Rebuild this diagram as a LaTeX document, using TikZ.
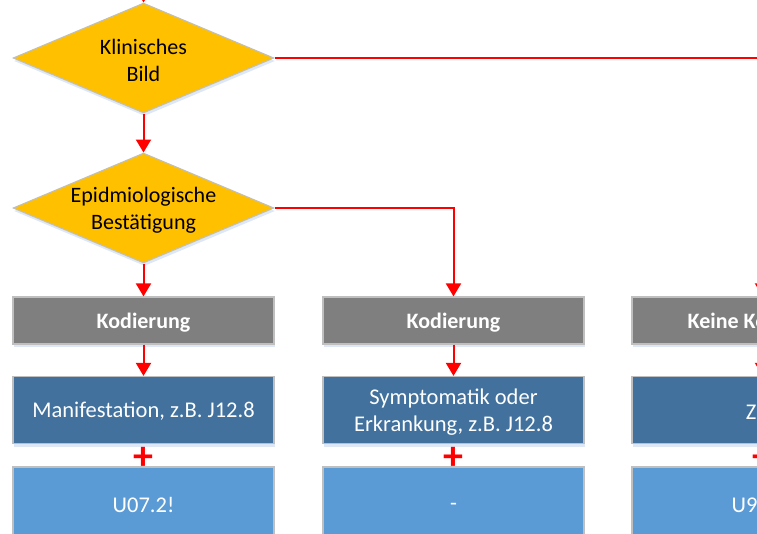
\documentclass[tikz,border=0pt]{standalone}
\usepackage{fontspec}
\setmainfont{Carlito}
\usetikzlibrary{shapes.geometric,arrows.meta,shadows}
\definecolor{gold}{HTML}{FFC000}
\definecolor{kgray}{HTML}{7F7F7F}
\definecolor{dblue}{HTML}{41719C}
\definecolor{lblue}{HTML}{5B9BD5}
\definecolor{edgegray}{HTML}{BFBFBF}
\definecolor{shadowblue}{HTML}{D5E1F2}
\definecolor{linered}{HTML}{FF0000}
\newcommand{\lowertext}[2]{\raisebox{-#1}[\height][\depth]{#2}}
\begin{document}
\begin{tikzpicture}[x=1pt,y=-1pt,
  shadowed/.style={drop shadow={shadow xshift=1pt, shadow yshift=-3pt, fill=shadowblue, opacity=0.8}},
  decision/.style={diamond, aspect=2.37, fill=gold, draw=edgegray, line width=1pt, minimum width=261pt, minimum height=110pt, inner sep=-4pt, align=center, font=\fontsize{22}{27}\selectfont, shadowed},
  kbox/.style={rectangle, fill=kgray, draw=edgegray, line width=1.2pt, minimum width=261pt, minimum height=47pt, inner sep=0pt, text=white, text depth=-1.5pt, font=\bfseries\fontsize{22}{27}\selectfont, shadowed},
  mbox/.style={rectangle, fill=dblue, draw=edgegray, line width=1.2pt, minimum width=261pt, minimum height=67pt, inner sep=0pt, text=white, align=center, font=\fontsize{22.5}{27}\selectfont, shadowed},
  lbox/.style={rectangle, fill=lblue, draw=edgegray, line width=1.2pt, minimum width=261pt, minimum height=72pt, inner sep=0pt, text=white, align=center, font=\fontsize{22.5}{27}\selectfont},
  arr/.style={draw=linered, line width=2pt, -{Triangle[length=13pt,width=15pt]}},
  plussign/.style={text=linered, inner sep=0pt, font=\bfseries\fontsize{40}{40}\selectfont}
]
\clip (0,0) rectangle (757,533);
\useasboundingbox (0,0) rectangle (757,533);

\coordinate (top) at (144,-40);
\node[decision] (d1) at (143.5,58) {\lowertext{2pt}{Klinisches}\\\lowertext{2pt}{Bild}};
\node[decision, text depth=0pt] (d2) at (143.5,208) {Epidmiologische\\Bestätigung};

\node[kbox] (k1) at (143.5,320.5) {Kodierung};
\node[kbox] (k2) at (453.5,320.5) {Kodierung};
\node[kbox] (k3) at (762.5,320.5) {Keine Kodierung};

\node[mbox, text depth=-1pt] (m1) at (143.5,410) {Manifestation, z.B. J12.8};
\node[mbox, text depth=-5pt] (m2) at (453.5,410) {Symptomatik oder\\Erkrankung, z.B. J12.8};
\node[mbox] (m3) at (762.5,410) {\lowertext{2pt}{Z11}};

\node[lbox] (l1) at (143.5,503) {\lowertext{2pt}{U07.2!}};
\node[lbox] (l2) at (453.5,503) {\lowertext{4pt}{-}};
\node[lbox] (l3) at (762.5,503) {\lowertext{2pt}{U99.0!}};

\node[plussign] (p1) at (143.5,458) {+};
\node[plussign] (p2) at (453.5,458) {+};
\node[plussign] (p3) at (762.5,458) {+};

\draw[arr] (top) -- (d1.north);
\draw[arr] (d1.south) -- (d2.north);
\draw[arr] (d2.south) -- (k1.north);
\draw[arr] (d2.east) -| (k2.north);
\draw[arr] (d1.east) -| (k3.north);
\draw[arr] (k1.south) -- (m1.north);
\draw[arr] (k2.south) -- (m2.north);
\draw[arr] (k3.south) -- (m3.north);
\end{tikzpicture}
\end{document}
